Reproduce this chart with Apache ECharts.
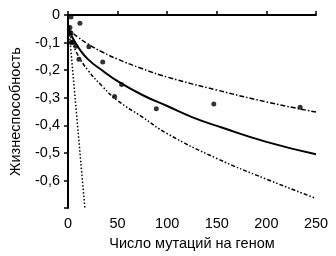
<!DOCTYPE html>
<html>
<head>
<meta charset="utf-8">
<script src="https://cdn.jsdelivr.net/npm/echarts@6/dist/echarts.min.js"></script>
<style>
  html, body { margin: 0; padding: 0; background: #fff; }
  #chart { width: 336px; height: 256px; }
</style>
</head>
<body>
<div id="chart"></div>
<script>
// values
var xTicks = [0, 50, 100, 150, 200, 250];
var yTicks = [0, -0.1, -0.2, -0.3, -0.4, -0.5, -0.6];

var meanX = [0, 2, 5, 10, 20, 35, 50, 75, 100, 125, 155, 200, 250];
var meanY = [-0.04, -0.06, -0.085, -0.115, -0.16, -0.202, -0.24, -0.29, -0.33, -0.37, -0.408, -0.46, -0.505];

var upperX = [0, 2, 5, 10, 20, 35, 50, 75, 100, 150, 200, 250];
var upperY = [-0.035, -0.05, -0.065, -0.08, -0.105, -0.135, -0.16, -0.195, -0.225, -0.272, -0.315, -0.352];

var lowerX = [0, 2, 5, 10, 20, 35, 50, 75, 100, 150, 200, 250];
var lowerY = [-0.045, -0.07, -0.105, -0.145, -0.2, -0.26, -0.31, -0.37, -0.43, -0.52, -0.595, -0.665];

var steepX = [0, 17];
var steepY = [-0.01, -0.7];

var obsX = [3, 12, 2, 3, 3, 5, 8, 21, 11, 35, 54, 47, 89, 147, 234];
var obsY = [-0.007, -0.03, -0.045, -0.065, -0.1, -0.1, -0.113, -0.115, -0.16, -0.17, -0.252, -0.295, -0.34, -0.323, -0.334];

function pairs(xs, ys) {
    var out = [];
    for (var i = 0; i < xs.length; i++) out.push([xs[i], ys[i]]);
    return out;
}

var font = 'Liberation Sans, Arial, sans-serif';
var chart = echarts.init(document.getElementById('chart'), null, {renderer: 'canvas'});

chart.setOption({
    animation: false,
    backgroundColor: '#fff',
    grid: {left: 65, right: 20, top: 15, bottom: 45},
    xAxis: {
        type: 'value',
        min: 0, max: 250, interval: 50,
        name: 'Число мутаций на геном',
        nameLocation: 'middle',
        nameGap: 27,
        nameTextStyle: {color: '#000', fontSize: 14.5, fontFamily: font},
        axisLine: {show: true, lineStyle: {color: '#000', width: 2}},
        axisTick: {show: true, inside: true, length: 4, lineStyle: {color: '#000', width: 1.5}},
        axisLabel: {color: '#000', fontSize: 14.5, fontFamily: font, margin: 8},
        splitLine: {show: false}
    },
    yAxis: {
        type: 'value',
        min: -0.7, max: 0, interval: 0.1,
        name: 'Жизнеспособность',
        nameLocation: 'middle',
        nameGap: 45,
        nameTextStyle: {color: '#000', fontSize: 14.5, fontFamily: font},
        axisLine: {show: true, lineStyle: {color: '#000', width: 2}},
        axisTick: {show: true, length: 4, lineStyle: {color: '#000', width: 1.5}},
        axisLabel: {
            color: '#000', fontSize: 14.5, fontFamily: font, margin: 8,
            formatter: function (v) {
                var r = Math.round(v * 10) / 10;
                if (yTicks.indexOf(r) < 0) return '';
                return r === 0 ? '0' : String(r).replace('.', ',');
            }
        },
        splitLine: {show: false}
    },
    series: [
        {
            type: 'line', data: pairs(meanX, meanY), smooth: true, showSymbol: false,
            lineStyle: {color: '#000', width: 2}
        },
        {
            type: 'line', data: pairs(upperX, upperY), smooth: true, showSymbol: false,
            lineStyle: {color: '#000', width: 1.5, type: [5, 2, 1.5, 2]}
        },
        {
            type: 'line', data: pairs(lowerX, lowerY), smooth: true, showSymbol: false,
            lineStyle: {color: '#000', width: 1.5, type: [4, 2, 1.5, 2, 1.5, 2]}
        },
        {
            type: 'line', data: pairs(steepX, steepY), showSymbol: false,
            lineStyle: {color: '#000', width: 1.5, type: [1.5, 2]}
        },
        {
            type: 'scatter', data: pairs(obsX, obsY), symbolSize: 5,
            itemStyle: {color: '#000'}
        }
    ]
});
</script>
</body>
</html>
